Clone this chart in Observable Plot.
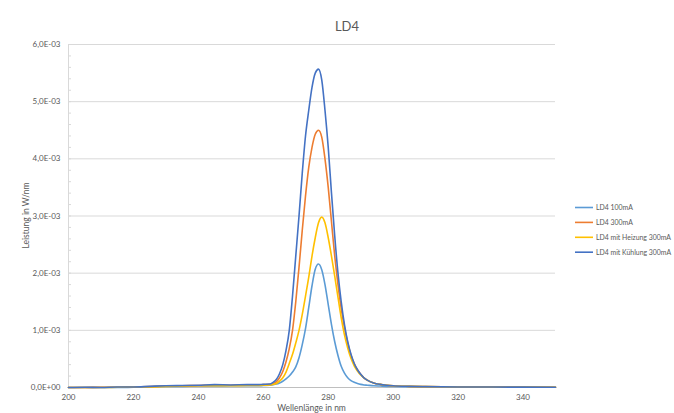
<!DOCTYPE html>
<html>
<head>
<meta charset="utf-8">
<script src="https://cdn.jsdelivr.net/npm/d3@7"></script>
<script src="https://cdn.jsdelivr.net/npm/@observablehq/plot@0.6"></script>
<style>
  html, body { margin: 0; padding: 0; background: #fff; }
  svg { display: block; }
</style>
</head>
<body>
<div id="chart"></div>
<script>
// ---- Data (values in units of 1E-03 W/nm) ----
const UNIT = 1e-3;
const titleText = "LD4";
const xLabel = "Wellenlänge in nm";
const yLabel = "Leistung in W/nm";
const seriesNames = ["LD4 100mA", "LD4 300mA", "LD4 mit Heizung 300mA", "LD4 mit Kühlung 300mA"];
const seriesColors = ["#5B9BD5", "#ED7D31", "#FFC000", "#4472C4"];
const xTicks = [200, 220, 240, 260, 280, 300, 320, 340];
const yTicks = [0, 0.001, 0.002, 0.003, 0.004, 0.005, 0.006];

const wavelengths = [
  200, 205, 210, 215, 220, 225, 230, 235, 240, 245, 250, 255, 258, 260,
  262, 263, 264, 265, 266, 267, 268, 269, 270, 271, 272, 273, 274, 275, 276, 277,
  278, 279, 280, 281, 282, 283, 284, 285, 286, 287, 288, 289, 290, 291, 292,
  294, 296, 298, 300, 305, 310, 320, 330, 340, 350
];

const ld4_100mA = [
  0, 0, 0, 0, 0.005, 0.01, 0.02, 0.02, 0.025, 0.025, 0.03, 0.03, 0.03, 0.035,
  0.04, 0.05, 0.06, 0.08, 0.11, 0.15, 0.2, 0.27, 0.36, 0.52, 0.75, 1.03, 1.4, 1.78, 2.07, 2.16,
  2.06, 1.8, 1.45, 1.1, 0.8, 0.56, 0.37, 0.25, 0.17, 0.12, 0.09, 0.07, 0.055, 0.045, 0.04,
  0.03, 0.025, 0.02, 0.018, 0.015, 0.012, 0.01, 0.008, 0.006, 0.005
];
const ld4_300mA = [
  0, 0, 0.005, 0.005, 0.01, 0.015, 0.025, 0.03, 0.035, 0.04, 0.04, 0.045, 0.045, 0.05,
  0.055, 0.07, 0.1, 0.17, 0.28, 0.45, 0.68, 1.0, 1.5, 2.1, 2.75, 3.35, 3.85, 4.2, 4.43, 4.5,
  4.38, 4.0, 3.5, 2.9, 2.3, 1.8, 1.38, 1.05, 0.78, 0.57, 0.42, 0.31, 0.23, 0.17, 0.13,
  0.08, 0.055, 0.04, 0.03, 0.02, 0.015, 0.01, 0.008, 0.006, 0.005
];
const ld4_heizung = [
  0, 0, 0, 0.005, 0.01, 0.01, 0.02, 0.025, 0.03, 0.03, 0.03, 0.035, 0.035, 0.04,
  0.045, 0.055, 0.07, 0.11, 0.17, 0.27, 0.42, 0.58, 0.78, 1.0, 1.28, 1.6, 1.93, 2.3, 2.62, 2.88,
  2.98, 2.88, 2.62, 2.3, 1.95, 1.58, 1.22, 0.92, 0.69, 0.51, 0.38, 0.29, 0.22, 0.17, 0.13,
  0.08, 0.055, 0.04, 0.03, 0.02, 0.015, 0.01, 0.008, 0.006, 0.005
];
const ld4_kuehlung = [
  0, 0.005, 0, 0.01, 0.01, 0.02, 0.03, 0.035, 0.04, 0.05, 0.045, 0.05, 0.05, 0.055,
  0.06, 0.09, 0.14, 0.24, 0.4, 0.65, 1.0, 1.6, 2.3, 3.0, 3.75, 4.4, 4.85, 5.25, 5.5, 5.57,
  5.38, 4.85, 4.2, 3.4, 2.65, 2.0, 1.5, 1.1, 0.8, 0.58, 0.42, 0.31, 0.23, 0.17, 0.13,
  0.08, 0.055, 0.04, 0.03, 0.02, 0.015, 0.01, 0.008, 0.006, 0.005
];

const seriesValues = [ld4_100mA, ld4_300mA, ld4_heizung, ld4_kuehlung];

// ---- Build table ----
const rows = [];
seriesValues.forEach((arr, i) => {
  arr.forEach((v, j) => rows.push({ wl: wavelengths[j], value: v * UNIT, series: seriesNames[i] }));
});

const minorTicks = d3.range(0, 31).map(i => i * 0.0002);

function sciFormat(v) {
  if (Math.abs(v) < 1e-12) return "0,0E+00";
  const e = Math.floor(Math.log10(v) + 1e-9);
  const m = v / Math.pow(10, e);
  const sign = e < 0 ? "-" : "+";
  return m.toFixed(1).replace(".", ",") + "E" + sign + String(Math.abs(e)).padStart(2, "0");
}

const W = 674, H = 413;
const mL = 68, mR = 119, mT = 44, mB = 26;
const textColor = "#595959";

const chart = Plot.plot({
  width: W,
  height: H,
  marginLeft: mL,
  marginRight: mR,
  marginTop: mT,
  marginBottom: mB,
  style: { fontFamily: "Lato, 'Open Sans', sans-serif", fontSize: "8px", color: textColor, background: "#fff" },
  x: { domain: [200, 350] },
  y: { domain: [0, 0.006] },
  color: { domain: seriesNames, range: seriesColors },
  marks: [
    Plot.gridY(yTicks.filter(v => v > 0), { stroke: "#d9d9d9", strokeOpacity: 1, strokeWidth: 1 }),
    Plot.ruleX([200], { stroke: "#d9d9d9", strokeWidth: 1 }),
    Plot.axisY(minorTicks, { tickSize: -3, tickFormat: () => "", stroke: "#d9d9d9", label: null }),
    Plot.axisY(yTicks, { tickSize: 0, tickPadding: 8, tickFormat: sciFormat, fill: textColor, label: null }),
    Plot.axisX(xTicks, { tickSize: 0, tickPadding: 7, fill: textColor, label: null }),
    Plot.ruleY([0], { stroke: "#bfbfbf", strokeWidth: 1 }),
    Plot.line(rows, { x: "wl", y: "value", z: "series", stroke: "series", strokeWidth: 1.6, curve: "monotone-x" })
  ]
});

document.getElementById("chart").appendChild(chart);

const svg = d3.select(chart);
const font = "Lato, 'Open Sans', sans-serif";

// Title
svg.append("text")
  .attr("x", 347).attr("y", 31)
  .attr("text-anchor", "middle")
  .attr("font-family", font).attr("font-size", 13)
  .attr("fill", textColor)
  .text(titleText);

// Y-axis label
svg.append("text")
  .attr("transform", `translate(29,${(mT + H - mB) / 2}) rotate(-90)`)
  .attr("text-anchor", "middle")
  .attr("font-family", font).attr("font-size", 8.5)
  .attr("fill", textColor)
  .text(yLabel);

// X-axis label
svg.append("text")
  .attr("x", (mL + W - mR) / 2).attr("y", 411)
  .attr("text-anchor", "middle")
  .attr("font-family", font).attr("font-size", 8.5)
  .attr("fill", textColor)
  .text(xLabel);

// Legend
const legend = svg.append("g")
  .attr("font-family", font).attr("font-size", 6.9)
  .attr("fill", textColor).attr("text-anchor", "start");
seriesNames.forEach((name, i) => {
  const y = 207.5 + i * 14.9;
  legend.append("line")
    .attr("x1", 575).attr("x2", 593).attr("y1", y).attr("y2", y)
    .attr("stroke", seriesColors[i]).attr("stroke-width", 1.6);
  legend.append("text")
    .attr("x", 596).attr("y", y).attr("dy", "0.35em")
    .attr("text-anchor", "start")
    .text(name);
});
</script>
</body>
</html>
